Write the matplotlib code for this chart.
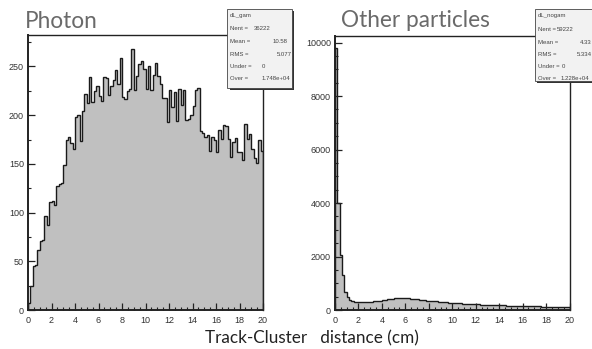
import numpy as np
import matplotlib.pyplot as plt
from matplotlib.patches import Rectangle
from matplotlib.ticker import MultipleLocator

# track-cluster distance, 100 bins over 0-20 cm
edges = np.linspace(0, 20, 101)

photon_counts = [
    7, 25, 45, 46, 62, 71, 72, 96, 87, 111,
    112, 108, 127, 129, 130, 149, 175, 178, 171, 165,
    198, 200, 173, 204, 222, 212, 239, 214, 225, 230,
    220, 215, 239, 238, 221, 230, 236, 246, 232, 259,
    219, 217, 225, 227, 268, 226, 240, 253, 256, 247,
    227, 250, 226, 241, 254, 240, 232, 218, 218, 193,
    226, 208, 224, 194, 227, 210, 226, 195, 196, 200,
    209, 226, 228, 184, 182, 178, 180, 163, 178, 175,
    162, 185, 176, 190, 189, 176, 157, 172, 177, 162,
    162, 154, 191, 176, 181, 165, 156, 151, 175, 163,
]

other_counts = [
    9780, 4000, 2050, 1300, 690, 500, 380, 330, 305, 295,
    290, 292, 288, 295, 300, 310, 318, 330, 340, 355,
    370, 385, 400, 415, 428, 440, 450, 458, 455, 450,
    440, 430, 422, 410, 400, 395, 380, 372, 365, 355,
    345, 335, 330, 318, 310, 300, 296, 288, 280, 272,
    265, 258, 252, 245, 240, 236, 228, 224, 218, 212,
    208, 210, 202, 198, 195, 190, 192, 185, 180, 182,
    175, 172, 170, 168, 165, 160, 162, 155, 152, 150,
    148, 145, 150, 140, 138, 142, 135, 132, 130, 128,
    125, 130, 122, 118, 120, 115, 110, 118, 105, 100,
]

photon_stats = [("Nent =", "36222"), ("Mean =", "10.58"), ("RMS =", "5.077"),
                ("Under =", "0"), ("Over =", "1.748e+04")]
other_stats = [("Nent =", "59222"), ("Mean =", "4.33"), ("RMS =", "5.334"),
               ("Under =", "0"), ("Over =", "1.228e+04")]

W, H = 592, 349
fill_col = "#c0c0c0"
tick_font = "Liberation Sans"
title_font = "Lato"


def fx(x):
    return x / W


def fy(y):
    return 1 - y / H


fig = plt.figure(figsize=(W / 100, H / 100), dpi=100)
fig.patch.set_facecolor("white")

ax1 = fig.add_axes([fx(28), fy(310), 235 / W, 275 / H])
ax2 = fig.add_axes([fx(335), fy(310), 234.5 / W, 274 / H])

for ax, counts, ymax, ymaj, ymin in [(ax1, photon_counts, 282.3, 50, 25),
                                     (ax2, other_counts, 10243, 2000, 500)]:
    ax.stairs(counts, edges, fill=True, color=fill_col, baseline=0)
    ax.stairs(counts, edges, color="#1a1a1a", linewidth=1.0, baseline=0)
    ax.set_xlim(0, 20)
    ax.set_ylim(0, ymax)
    ax.xaxis.set_major_locator(MultipleLocator(2))
    ax.xaxis.set_minor_locator(MultipleLocator(0.5))
    ax.yaxis.set_major_locator(MultipleLocator(ymaj))
    ax.yaxis.set_minor_locator(MultipleLocator(ymin))
    ax.tick_params(which="both", direction="in", top=False, right=False,
                   colors="#222222", labelcolor="#333333", labelsize=6.5)
    ax.tick_params(axis="x", pad=4)
    ax.tick_params(axis="y", pad=3)
    ax.tick_params(which="major", length=5, width=0.9)
    ax.tick_params(which="minor", length=2.5, width=0.8)
    for lbl in ax.get_xticklabels() + ax.get_yticklabels():
        lbl.set_fontfamily(tick_font)
    for side in ["top", "right"]:
        ax.spines[side].set_linewidth(1.0)
        ax.spines[side].set_color("#222222")
    for side in ["left", "bottom"]:
        ax.spines[side].set_linewidth(1.4)
        ax.spines[side].set_color("#222222")

fig.text(fx(25), fy(28.5), "Photon", fontsize=16.3, family=title_font,
         color="#6a6a6a", ha="left", va="baseline")
fig.text(fx(341), fy(27), "Other particles", fontsize=16.3, family=title_font,
         color="#6a6a6a", ha="left", va="baseline")
fig.text(fx(205), fy(343), "Track-Cluster   distance (cm)", fontsize=12.3,
         family=title_font, color="#222222", ha="left", va="baseline")


def stats_box(x0, y0, x1, y1, name, rows, vals_x):
    # drop shadow then the box itself
    fig.add_artist(Rectangle((fx(x0 + 2), fy(y1 + 2)), (x1 - x0) / W, (y1 - y0) / H,
                             transform=fig.transFigure, facecolor="#333333",
                             edgecolor="none", zorder=5))
    fig.add_artist(Rectangle((fx(x0), fy(y1)), (x1 - x0) / W, (y1 - y0) / H,
                             transform=fig.transFigure, facecolor="#f2f2f2",
                             edgecolor="#444444", linewidth=0.6, zorder=6))
    kw = dict(fontsize=4.3, family=tick_font, color="#444444", va="center", zorder=7)
    fig.text(fx(x0 + 2.5), fy(y0 + 6.5), name, ha="left", **kw)
    row_y = [y0 + 20.5, y0 + 33, y0 + 45.5, y0 + 58, y0 + 70]
    for (lab, val), yy, (vx, ha) in zip(rows, row_y, vals_x):
        fig.text(fx(x0 + 2.5), fy(yy), lab, ha="left", **kw)
        fig.text(fx(vx), fy(yy), val, ha=ha, **kw)


stats_box(227.5, 8.5, 292, 88, "dL_gam", photon_stats,
          [(271, "right"), (288, "right"), (292, "right"), (262, "left"), (262, "left")])
stats_box(535, 9, 600, 81, "dL_nogam", other_stats,
          [(557, "left"), (592, "right"), (592, "right"), (562, "left"), (561, "left")])

fig.savefig("out.png", dpi=100)
